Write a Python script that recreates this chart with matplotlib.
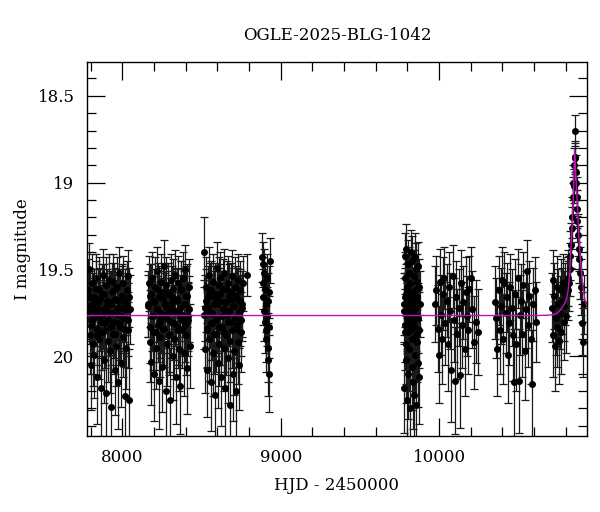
import numpy as np
import matplotlib
matplotlib.use("Agg")
import matplotlib.pyplot as plt
from matplotlib.ticker import MultipleLocator, FormatStrFormatter

# --- photometry, season by season (HJD - 2450000, I mag, error) ---
t1 = [7784, 7788, 7793, 7797, 7801, 7806, 7810, 7815, 7819, 7823,
      7828, 7832, 7837, 7841, 7846, 7850, 7854, 7859, 7863, 7868,
      7872, 7877, 7881, 7885, 7890, 7894, 7899, 7903, 7908, 7912,
      7916, 7921, 7925, 7930, 7934, 7939, 7943, 7947, 7952, 7956,
      7961, 7965, 7970, 7974, 7978, 7983, 7987, 7992, 7996, 8001,
      8005, 8009, 8014, 8018, 8023, 8027, 8032, 8036, 8040, 8045,
      7786, 7795, 7804, 7813, 7821, 7830, 7839, 7848, 7857, 7866,
      7875, 7883, 7892, 7901, 7910, 7919, 7928, 7937, 7945, 7954,
      7963, 7972, 7981, 7990, 7999, 8007, 8016, 8025, 8034, 8042]
m1 = [19.62, 19.50, 19.88, 19.71, 20.05, 19.58, 19.79, 19.93, 19.66, 19.99,
      19.74, 19.55, 19.84, 20.12, 19.69, 19.61, 19.90, 19.77, 20.18, 19.64,
      19.86, 19.53, 19.73, 20.02, 19.81, 19.59, 20.21, 19.68, 19.91, 19.75,
      19.56, 19.97, 20.29, 19.70, 19.63, 19.87, 19.57, 19.80, 20.08, 19.67,
      19.94, 19.60, 19.76, 20.15, 19.52, 19.83, 19.72, 20.04, 19.65, 19.89,
      19.58, 19.78, 20.23, 19.69, 19.95, 19.62, 19.85, 19.54, 20.25, 19.73,
      19.74, 19.66, 19.82, 19.70, 19.78, 19.61, 19.88, 19.73, 19.67, 19.80,
      19.76, 19.64, 19.85, 19.71, 19.79, 19.69, 19.83, 19.75, 19.62, 19.87,
      19.72, 19.68, 19.81, 19.77, 19.65, 19.84, 19.73, 19.70, 19.79, 19.66]
e1 = [0.18, 0.15, 0.22, 0.20, 0.26, 0.17, 0.19, 0.24, 0.16, 0.25,
      0.20, 0.14, 0.21, 0.27, 0.19, 0.18, 0.23, 0.20, 0.28, 0.17,
      0.22, 0.15, 0.19, 0.25, 0.21, 0.16, 0.29, 0.18, 0.24, 0.20,
      0.15, 0.24, 0.30, 0.19, 0.17, 0.22, 0.16, 0.21, 0.26, 0.18,
      0.23, 0.17, 0.20, 0.27, 0.15, 0.22, 0.19, 0.25, 0.18, 0.23,
      0.16, 0.20, 0.28, 0.19, 0.24, 0.17, 0.22, 0.15, 0.29, 0.20,
      0.19, 0.17, 0.22, 0.18, 0.20, 0.16, 0.23, 0.19, 0.18, 0.21,
      0.20, 0.17, 0.22, 0.19, 0.21, 0.18, 0.22, 0.20, 0.16, 0.23,
      0.19, 0.18, 0.21, 0.20, 0.17, 0.22, 0.19, 0.18, 0.21, 0.17]

t2 = [8162, 8166, 8171, 8175, 8180, 8184, 8189, 8193, 8197, 8202,
      8206, 8211, 8215, 8220, 8224, 8228, 8233, 8237, 8242, 8246,
      8251, 8255, 8259, 8264, 8268, 8273, 8277, 8282, 8286, 8290,
      8295, 8299, 8304, 8308, 8313, 8317, 8321, 8326, 8330, 8335,
      8339, 8344, 8348, 8352, 8357, 8361, 8366, 8370, 8375, 8379,
      8383, 8388, 8392, 8397, 8401, 8406, 8410, 8414, 8419, 8424,
      8164, 8173, 8182, 8191, 8200, 8209, 8218, 8226, 8235, 8244,
      8253, 8262, 8271, 8280, 8288, 8297, 8306, 8315, 8324, 8333,
      8342, 8350, 8359, 8368, 8377, 8386, 8395, 8404, 8412, 8421]
m2 = [19.70, 19.58, 19.92, 19.65, 20.03, 19.77, 19.55, 19.86, 20.10, 19.68,
      19.60, 19.95, 19.73, 19.51, 19.82, 20.14, 19.66, 19.89, 19.57, 19.78,
      20.06, 19.63, 19.84, 19.48, 19.71, 20.20, 19.59, 19.93, 19.75, 19.64,
      19.87, 20.25, 19.56, 19.80, 19.69, 20.00, 19.61, 19.90, 19.74, 19.53,
      20.12, 19.67, 19.83, 19.58, 19.96, 19.72, 20.17, 19.62, 19.85, 19.76,
      19.55, 19.98, 19.70, 19.50, 19.88, 20.07, 19.65, 19.79, 19.60, 19.94,
      19.71, 19.83, 19.64, 19.77, 19.69, 19.86, 19.73, 19.62, 19.80, 19.75,
      19.67, 19.84, 19.70, 19.78, 19.63, 19.88, 19.72, 19.66, 19.81, 19.74,
      19.68, 19.85, 19.76, 19.61, 19.79, 19.70, 19.82, 19.65, 19.77, 19.73]
e2 = [0.19, 0.16, 0.23, 0.18, 0.25, 0.20, 0.15, 0.22, 0.27, 0.18,
      0.17, 0.24, 0.19, 0.14, 0.21, 0.28, 0.18, 0.23, 0.16, 0.20,
      0.26, 0.17, 0.21, 0.15, 0.19, 0.29, 0.16, 0.24, 0.20, 0.18,
      0.22, 0.30, 0.15, 0.21, 0.18, 0.25, 0.17, 0.23, 0.19, 0.14,
      0.27, 0.18, 0.22, 0.16, 0.24, 0.19, 0.28, 0.17, 0.22, 0.20,
      0.15, 0.25, 0.19, 0.14, 0.23, 0.26, 0.18, 0.21, 0.16, 0.24,
      0.18, 0.21, 0.17, 0.20, 0.19, 0.22, 0.19, 0.16, 0.21, 0.20,
      0.18, 0.22, 0.19, 0.20, 0.17, 0.23, 0.19, 0.18, 0.21, 0.20,
      0.18, 0.22, 0.20, 0.16, 0.21, 0.19, 0.21, 0.17, 0.20, 0.19]

t3 = [8516, 8520, 8524, 8528, 8532, 8537, 8541, 8545, 8549, 8553,
      8557, 8561, 8566, 8570, 8574, 8578, 8582, 8586, 8590, 8595,
      8599, 8603, 8607, 8611, 8615, 8619, 8624, 8628, 8632, 8636,
      8640, 8644, 8648, 8653, 8657, 8661, 8665, 8669, 8673, 8677,
      8682, 8686, 8690, 8694, 8698, 8702, 8706, 8711, 8715, 8719,
      8723, 8727, 8731, 8735, 8740, 8744, 8748, 8752, 8760, 8785,
      8518, 8526, 8535, 8543, 8551, 8559, 8568, 8576, 8584, 8592,
      8601, 8609, 8617, 8626, 8634, 8642, 8650, 8659, 8667, 8675,
      8684, 8692, 8700, 8709, 8717, 8725, 8733, 8742, 8750, 8756]
m3 = [19.40, 19.72, 19.96, 19.60, 19.85, 20.08, 19.66, 19.53, 19.90, 19.75,
      20.15, 19.62, 19.81, 19.57, 19.98, 19.70, 20.22, 19.64, 19.87, 19.49,
      19.78, 20.04, 19.59, 19.93, 19.68, 19.55, 20.12, 19.83, 19.73, 19.61,
      19.95, 19.52, 20.18, 19.69, 19.88, 19.76, 19.58, 20.01, 19.65, 19.91,
      20.28, 19.63, 19.80, 19.54, 20.10, 19.71, 19.97, 19.60, 19.84, 20.20,
      19.67, 19.92, 19.56, 20.05, 19.74, 19.62, 19.86, 19.70, 19.58, 19.53,
      19.76, 19.68, 19.84, 19.72, 19.63, 19.81, 19.75, 19.87, 19.66, 19.79,
      19.70, 19.83, 19.64, 19.77, 19.73, 19.86, 19.69, 19.61, 19.80, 19.74,
      19.67, 19.85, 19.71, 19.78, 19.65, 19.82, 19.75, 19.68, 19.79, 19.72]
e3 = [0.20, 0.19, 0.25, 0.17, 0.22, 0.27, 0.18, 0.16, 0.24, 0.20,
      0.28, 0.17, 0.21, 0.16, 0.25, 0.19, 0.30, 0.18, 0.22, 0.15,
      0.20, 0.26, 0.16, 0.24, 0.19, 0.15, 0.28, 0.22, 0.20, 0.17,
      0.25, 0.14, 0.29, 0.18, 0.23, 0.21, 0.16, 0.26, 0.18, 0.24,
      0.31, 0.17, 0.21, 0.15, 0.27, 0.19, 0.25, 0.17, 0.22, 0.28,
      0.18, 0.24, 0.15, 0.26, 0.20, 0.17, 0.23, 0.19, 0.16, 0.12,
      0.20, 0.18, 0.22, 0.19, 0.17, 0.21, 0.20, 0.23, 0.18, 0.21,
      0.19, 0.22, 0.17, 0.20, 0.19, 0.23, 0.18, 0.16, 0.21, 0.20,
      0.18, 0.22, 0.19, 0.21, 0.17, 0.22, 0.20, 0.18, 0.21, 0.19]

t4 = [8882, 8885, 8888, 8890, 8893, 8896, 8899, 8901, 8904, 8906,
      8909, 8912, 8914, 8917, 8920, 8922, 8925, 8928, 8930, 8927]
m4 = [19.43, 19.47, 19.58, 19.66, 19.52, 19.74, 19.80, 19.61, 19.90, 19.70,
      19.85, 19.77, 19.55, 19.95, 19.68, 20.02, 19.83, 19.63, 19.45, 20.10]
e4 = [0.14, 0.13, 0.15, 0.16, 0.14, 0.17, 0.18, 0.15, 0.19, 0.16,
      0.18, 0.17, 0.14, 0.20, 0.16, 0.21, 0.18, 0.15, 0.13, 0.22]

t5 = [9778, 9780, 9782, 9784, 9786, 9788, 9790, 9792, 9794, 9796,
      9798, 9800, 9802, 9804, 9806, 9808, 9810, 9812, 9814, 9816,
      9818, 9820, 9822, 9824, 9826, 9828, 9830, 9832, 9834, 9836,
      9838, 9840, 9842, 9844, 9846, 9848, 9850, 9852, 9854, 9856,
      9858, 9860, 9862, 9864, 9866, 9868, 9870, 9872, 9875, 9878,
      9779, 9783, 9787, 9791, 9795, 9799, 9803, 9807, 9811, 9815,
      9819, 9823, 9827, 9831, 9835, 9839, 9843, 9847, 9851, 9855]
m5 = [19.70, 20.18, 19.55, 19.86, 19.42, 20.02, 19.64, 19.93, 19.38, 19.77,
      20.25, 19.60, 19.81, 19.47, 20.10, 19.72, 19.52, 19.96, 19.67, 20.30,
      19.58, 19.84, 19.40, 19.75, 20.06, 19.63, 19.90, 19.45, 20.15, 19.69,
      19.80, 19.54, 20.22, 19.73, 19.43, 19.99, 19.62, 19.88, 19.50, 20.28,
      19.66, 19.92, 19.57, 20.04, 19.78, 19.48, 19.85, 20.12, 19.60, 19.70,
      19.74, 19.66, 19.82, 19.70, 19.78, 19.62, 19.86, 19.72, 19.68, 19.80,
      19.75, 19.64, 19.84, 19.71, 19.79, 19.67, 19.83, 19.73, 19.69, 19.77]
e5 = [0.18, 0.26, 0.15, 0.22, 0.13, 0.25, 0.17, 0.23, 0.14, 0.20,
      0.29, 0.16, 0.21, 0.14, 0.26, 0.19, 0.15, 0.24, 0.17, 0.31,
      0.16, 0.22, 0.13, 0.20, 0.25, 0.17, 0.23, 0.14, 0.27, 0.18,
      0.21, 0.15, 0.28, 0.19, 0.14, 0.24, 0.16, 0.22, 0.15, 0.30,
      0.17, 0.23, 0.16, 0.25, 0.20, 0.14, 0.22, 0.27, 0.16, 0.19,
      0.19, 0.17, 0.21, 0.18, 0.20, 0.16, 0.22, 0.19, 0.18, 0.21,
      0.20, 0.17, 0.22, 0.19, 0.21, 0.18, 0.22, 0.20, 0.18, 0.20]

t6 = [9976, 9983, 9990, 9997, 10004, 10011, 10018, 10025, 10032, 10040,
      10047, 10055, 10062, 10070, 10078, 10085, 10092, 10100, 10108, 10115,
      10123, 10130, 10138, 10146, 10153, 10161, 10168, 10176, 10184, 10192,
      10200, 10210, 10220, 10232, 10245]
m6 = [19.70, 19.62, 19.84, 19.99, 19.57, 19.76, 19.90, 19.64, 19.55, 19.81,
      19.68, 19.93, 19.60, 19.74, 20.08, 19.54, 19.79, 20.14, 19.66, 19.87,
      19.72, 20.11, 19.58, 19.82, 19.69, 19.96, 19.63, 19.77, 19.85, 19.61,
      19.55, 19.73, 19.92, 19.80, 19.86]
e6 = [0.22, 0.20, 0.25, 0.28, 0.19, 0.23, 0.26, 0.21, 0.18, 0.24,
      0.21, 0.27, 0.20, 0.22, 0.30, 0.18, 0.24, 0.31, 0.21, 0.26,
      0.22, 0.30, 0.19, 0.25, 0.21, 0.27, 0.20, 0.23, 0.25, 0.19,
      0.18, 0.22, 0.27, 0.24, 0.25]

t7 = [10354, 10361, 10368, 10376, 10383, 10391, 10398, 10406, 10413, 10421,
      10428, 10436, 10443, 10451, 10458, 10466, 10473, 10481, 10488, 10496,
      10503, 10511, 10518, 10526, 10533, 10541, 10548, 10556, 10563, 10571,
      10578, 10586, 10594, 10604, 10615]
m7 = [19.69, 19.78, 19.96, 19.62, 19.85, 19.71, 19.56, 19.90, 19.58, 19.75,
      19.66, 19.99, 19.81, 19.60, 19.72, 19.88, 20.15, 19.64, 19.93, 19.55,
      20.14, 19.76, 19.68, 19.87, 19.59, 19.97, 19.73, 19.51, 19.82, 19.65,
      19.90, 20.16, 19.70, 19.62, 19.80]
e7 = [0.21, 0.23, 0.27, 0.20, 0.25, 0.22, 0.19, 0.26, 0.18, 0.23,
      0.20, 0.28, 0.24, 0.19, 0.22, 0.26, 0.31, 0.20, 0.27, 0.17,
      0.30, 0.23, 0.21, 0.25, 0.19, 0.28, 0.22, 0.18, 0.24, 0.20,
      0.26, 0.31, 0.21, 0.19, 0.23]

t8 = [10712, 10717, 10722, 10727, 10732, 10737, 10742, 10747, 10752, 10757,
      10762, 10767, 10772, 10777, 10782, 10787, 10792, 10797, 10802, 10807,
      10812, 10817, 10822, 10826, 10830, 10834, 10838, 10842, 10845, 10848,
      10851, 10854, 10856, 10858, 10860, 10862, 10865, 10868, 10871, 10874,
      10878, 10882, 10886, 10891, 10896, 10900, 10907, 10915]
m8 = [19.72, 19.56, 19.88, 19.65, 19.94, 19.78, 19.60, 19.83, 19.70, 19.91,
      19.75, 19.62, 19.86, 19.68, 19.58, 19.80, 19.71, 19.64, 19.77, 19.60,
      19.62, 19.55, 19.58, 19.50, 19.42, 19.36, 19.26, 19.20, 19.08, 19.00,
      18.90, 19.02, 18.86, 18.70, 18.85, 18.94, 19.00, 19.08, 19.15, 19.22,
      19.30, 19.38, 19.44, 19.52, 19.60, 19.81, 19.92, 19.70]
e8 = [0.20, 0.17, 0.24, 0.19, 0.26, 0.21, 0.18, 0.23, 0.20, 0.25,
      0.21, 0.18, 0.24, 0.19, 0.17, 0.22, 0.20, 0.18, 0.21, 0.17,
      0.17, 0.16, 0.16, 0.15, 0.14, 0.13, 0.12, 0.12, 0.11, 0.10,
      0.10, 0.10, 0.09, 0.09, 0.09, 0.10, 0.10, 0.11, 0.11, 0.12,
      0.12, 0.13, 0.14, 0.15, 0.16, 0.18, 0.20, 0.17]

# --- model curve ---
model_t = [7776, 10600, 10700, 10742, 10770, 10790, 10805, 10815, 10825,
           10832, 10840, 10847, 10852, 10857, 10862, 10867, 10872, 10880,
           10889, 10900, 10910, 10920, 10933]
model_m = [19.765, 19.765, 19.763, 19.755, 19.73, 19.70, 19.67, 19.62, 19.52,
           19.39, 19.25, 19.10, 18.95, 18.81, 18.93, 19.02, 19.10, 19.26,
           19.39, 19.52, 19.61, 19.67, 19.71]

title = "OGLE-2025-BLG-1042"

plt.rcParams['font.family'] = ['DejaVu Serif']

fig = plt.figure(figsize=(6.0, 5.12), dpi=100)
ax = fig.add_axes([0.145, 0.148, 0.833, 0.731])

seasons = [(t1, m1, e1), (t2, m2, e2), (t3, m3, e3), (t4, m4, e4),
           (t5, m5, e5), (t6, m6, e6), (t7, m7, e7), (t8, m8, e8)]
for t, m, e in seasons:
    ax.errorbar(t, m, yerr=e, fmt='o', color='black', ms=4.0,
                ecolor='#1a1a1a', elinewidth=0.9, capsize=2.8, capthick=0.9,
                zorder=2)

ax.plot(model_t, model_m, color='#c010c0', lw=1.0, zorder=3)

ax.set_xlim(7776, 10933)
ax.set_ylim(20.46, 18.305)

ax.xaxis.set_major_locator(MultipleLocator(1000))
ax.xaxis.set_minor_locator(MultipleLocator(200))
ax.yaxis.set_major_locator(MultipleLocator(0.5))
ax.yaxis.set_minor_locator(MultipleLocator(0.1))
ax.yaxis.set_major_formatter(FormatStrFormatter('%g'))

ax.tick_params(which='both', direction='in', top=True, right=True,
               labelsize=12, width=0.9)
ax.tick_params(which='major', length=13, pad=9)
ax.tick_params(which='minor', length=6.5)
for s in ax.spines.values():
    s.set_linewidth(1.0)

ax.set_xlabel("HJD - 2450000", fontsize=12, labelpad=8)
ax.set_ylabel("I magnitude", fontsize=12, labelpad=5)
ax.set_title(title, fontsize=12, pad=16)

fig.savefig("out.png", dpi=100)
